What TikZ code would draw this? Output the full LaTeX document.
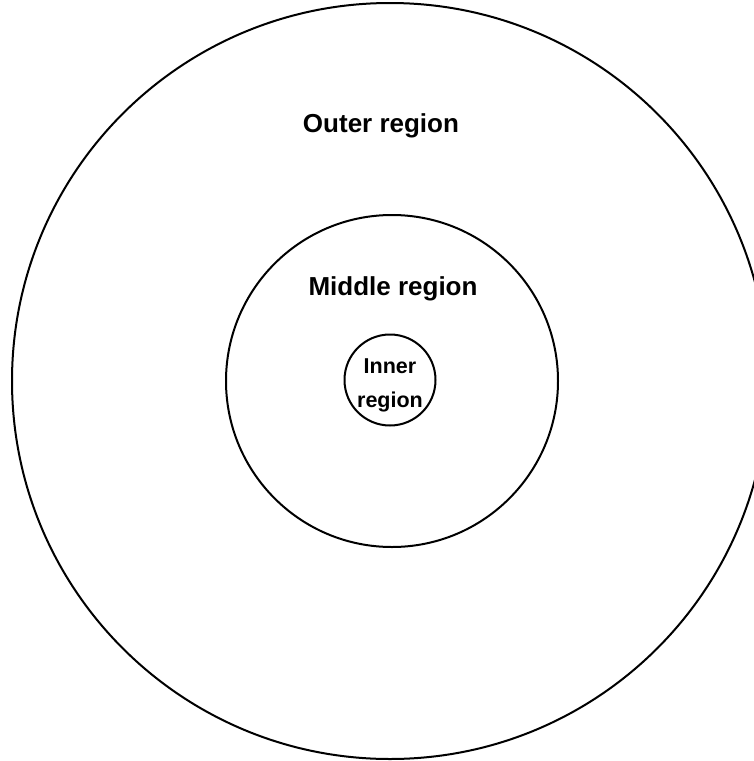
\documentclass[tikz,border=0pt]{standalone}
\usepackage{fontspec}
\setmainfont{Liberation Sans}
\usetikzlibrary{positioning}

\begin{document}
\begin{tikzpicture}[x=1pt, y=-1pt, line width=2pt,
     ring/.style={draw=black, circle, inner sep=0pt},
     lbl/.style={inner sep=0pt, font=\bfseries\fontsize{26}{30}\selectfont}]
   \useasboundingbox (0,0) rectangle (754,761);
   % the three regions
   \node[ring, minimum size=756pt] (outer) at (390,381) {};
   \node[ring, minimum size=332pt] (middle) at (392,381) {};
   \node[ring, minimum size=91pt]  (inner) at (390,380) {};
   % labels
   \node[lbl] (outerlbl) at (381,126) {Outer region};
   \node[lbl] (middlelbl) at (393,289) {Middle region};
   \node[lbl, font=\bfseries\fontsize{21.5}{34}\selectfont, align=center] (innerlbl) at (390,385) {Inner\\region};
  \end{tikzpicture}
\end{document}
